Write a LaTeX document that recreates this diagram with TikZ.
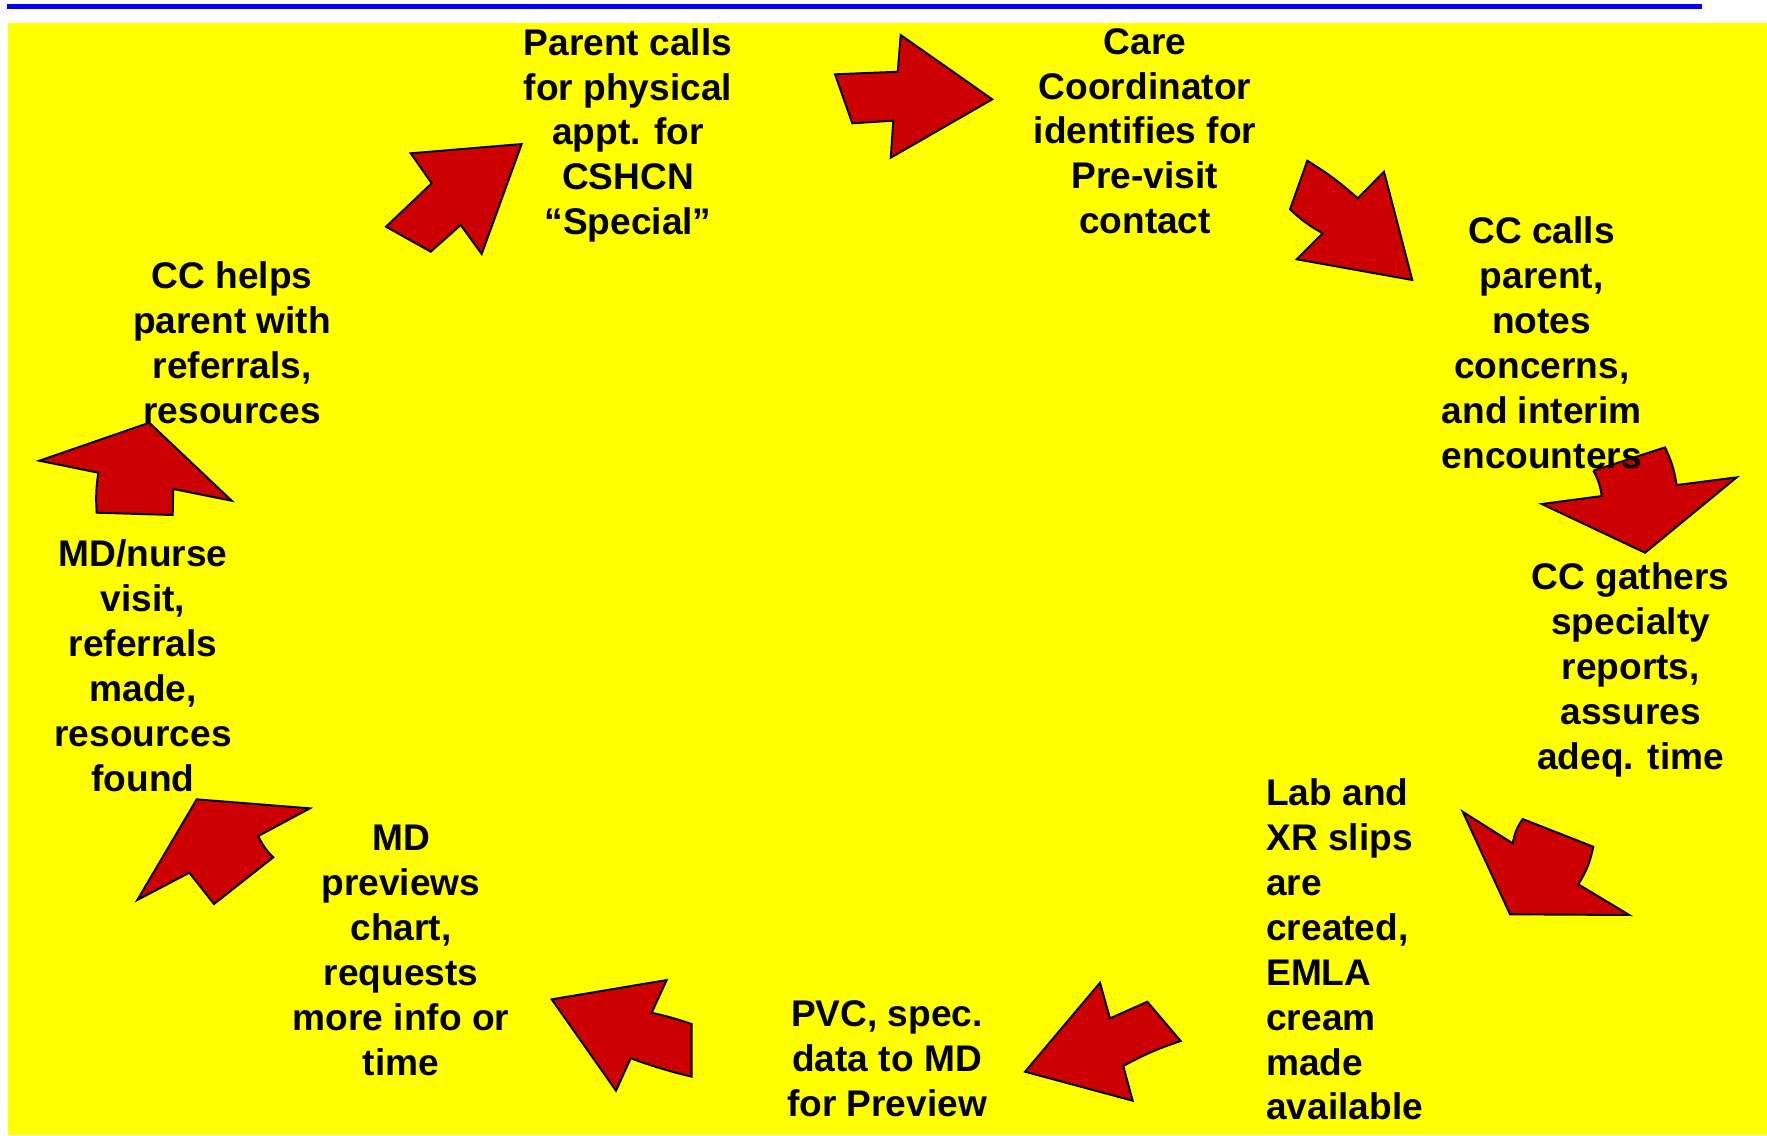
\documentclass[tikz,border=0pt]{standalone}
\usepackage{fontspec}
\setmainfont{Liberation Sans}
\definecolor{bgyellow}{HTML}{FFFF00}
\definecolor{arrred}{HTML}{CC0000}
\definecolor{topblue}{HTML}{0000FF}
\tikzset{
  bigarrow/.style={fill=arrred,draw=black,line width=0.55pt,line join=miter},
  steptext/.style={font=\fontsize{10.55pt}{12.77pt}\selectfont\bfseries,align=center,inner sep=0pt,anchor=north},
  steptextleft/.style={font=\fontsize{10.55pt}{12.77pt}\selectfont\bfseries,align=left,inner sep=0pt,anchor=north west}
}
\begin{document}
\begin{tikzpicture}[x=0.01cm,y=-0.01cm]
\useasboundingbox (0,0) rectangle (1767,1135);
\fill[white] (0,0) rectangle (1767,1135);
\fill[topblue] (7,3.5) rectangle (1702,9);
\fill[bgyellow] (8,22.5) rectangle (1767,1135);
% arrows
\draw[bigarrow] (835,74.3) -- (897.7,71.7) -- (900.7,35) -- (992.3,99.3) -- (890.7,157.7) -- (893.3,120.7) -- (852.3,123.3) -- cycle;
\draw[bigarrow] (410.7,153.3) -- (521.7,144) -- (481.7,254) -- (460.7,225) -- (430.7,251.7) -- (386,226.7) -- (431.7,183.3) -- cycle;
\draw[bigarrow] (1307.3,160.7) to[bend left=5] (1357.7,198.3) -- (1384,171.7) -- (1412.3,280) -- (1296.7,259.3) -- (1322.7,233.3) to[bend left=7] (1290,209.3) -- cycle;
\draw[bigarrow] (39.3,460.7) -- (149.3,422.7) -- (231.7,500.7) -- (173.3,489) -- (172.7,515) -- (96.7,512.7) to[bend left=6] (98.3,472.7) -- cycle;
\draw[bigarrow] (1593.3,470.7) -- (1665,447.3) to[bend left=8] (1676.7,485) -- (1736.7,477.3) -- (1645,552.7) -- (1541.7,504) -- (1601.7,496) to[bend right=10] (1593.3,470.7);
\draw[bigarrow] (1462.7,811.7) -- (1512.7,843.3) to[bend left=12] (1522.7,819) -- (1593.3,846.7) to[bend left=10] (1578.3,884.3) -- (1629.3,915) -- (1510,914.3) -- cycle;
\draw[bigarrow] (1100,982.7) -- (1110,1018.3) -- (1147.3,1001.7) -- (1180.7,1041) to[bend right=5] (1123.3,1066) -- (1132.7,1100.7) -- (1025,1071.7) -- cycle;
\draw[bigarrow] (551.7,999.3) -- (666.7,980) -- (651.7,1012.7) to[bend left=3] (691.7,1024) -- (691.7,1076.7) to[bend left=3] (630.7,1058.3) -- (616,1090.7) -- cycle;
\draw[bigarrow] (196.7,799.3) -- (310,808.3) -- (258.3,836) to[bend right=10] (273.3,857.3) -- (214,904) -- (189.3,872.7) -- (137.3,900) -- cycle;
% texts
\node[steptext] (t1) at (628,27.5) {Parent calls\\for physical\\appt. for\\CSHCN\\“Special”};
\node[steptext] (t2) at (1145,27.5) {Care\\Coordinator\\identifies for\\Pre-visit\\contact};
\node[steptext] (t3) at (1541.7,216) {CC calls\\parent,\\notes\\concerns,\\and interim\\encounters};
\node[steptext] (t4) at (1630.7,562) {CC gathers\\specialty\\reports,\\assures\\adeq. time};
\node[steptextleft] (t5) at (1265.6,778) {Lab and\\XR slips\\are\\created,\\EMLA\\cream\\made\\available};
\node[steptext] (t6) at (887,1000) {PVC, spec.\\data to MD\\for Preview};
\node[steptext] (t7) at (401,824.5) {MD\\previews\\chart,\\requests\\more info or\\time};
\node[steptext] (t8) at (143,539) {MD/nurse\\visit,\\referrals\\made,\\resources\\found};
\node[steptext] (t9) at (232,261) {CC helps\\parent with\\referrals,\\resources};
\end{tikzpicture}
\end{document}
